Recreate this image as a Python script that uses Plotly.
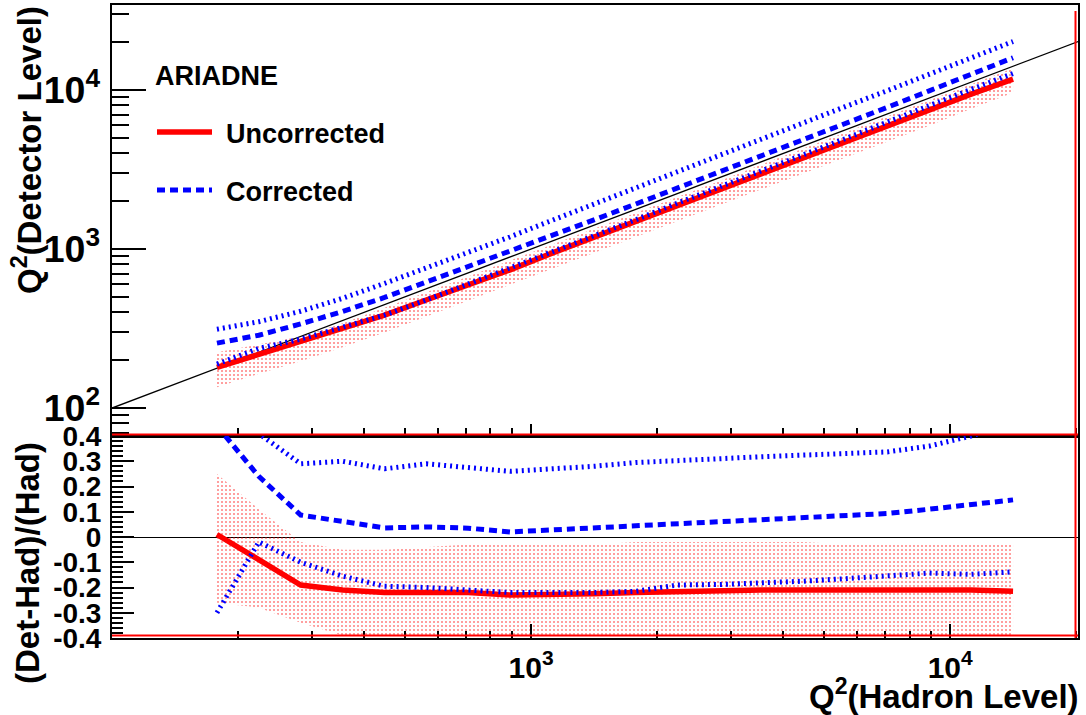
import plotly.graph_objects as go

# ---------------- data ----------------
# hadron-level Q^2 bin centres
q2_had = [178, 224, 282, 355, 447, 562, 708, 891, 1122, 1413, 1778, 2239,
          2818, 3548, 4467, 5623, 7079, 8913, 11220, 14125]

# top panel: detector-level Q^2
det_uncorr = [180, 217, 259, 312, 384, 478, 595, 740, 942, 1187, 1511, 1903,
              2395, 3016, 3797, 4780, 5946, 7487, 9425, 11724]
det_corr = [256, 287, 338, 405, 496, 618, 772, 962, 1212, 1526, 1920, 2418,
            3043, 3867, 4869, 6185, 7787, 9893, 12566, 15961]
det_corr_hi = [313, 349, 406, 490, 608, 759, 949, 1194, 1515, 1922, 2436, 3090,
               3917, 4932, 6209, 7872, 9911, 12567, 15932, 20199]
det_corr_lo = [189, 237, 271, 320, 384, 478, 602, 766, 965, 1215, 1529, 1948,
               2452, 3122, 3931, 4948, 6300, 8022, 10098, 12713]
det_band_hi = [224, 251, 282, 341, 425, 534, 673, 846, 1066, 1342, 1689, 2127,
               2677, 3406, 4288, 5398, 6796, 8646, 10883, 13701]
det_band_lo = [135, 164, 197, 241, 299, 377, 474, 597, 752, 947, 1191, 1500,
               1888, 2377, 2993, 3767, 4743, 5972, 7630, 9605]

# diagonal reference (Det = Had)
diag_q2 = [100, 20200]

# bottom panel: (Det-Had)/Had
rel_uncorr = [0.01, -0.09, -0.19, -0.21, -0.22, -0.22, -0.22, -0.23, -0.23, -0.225,
              -0.22, -0.215, -0.21, -0.21, -0.21, -0.21, -0.21, -0.205, -0.21, -0.215]
rel_corr = [0.44, 0.24, 0.087, 0.06, 0.036, 0.04, 0.035, 0.02, 0.028, 0.036,
            0.045, 0.055, 0.063, 0.068, 0.075, 0.083, 0.093, 0.11, 0.128, 0.147]
rel_corr_hi = [0.76, 0.41, 0.29, 0.30, 0.27, 0.29, 0.275, 0.26, 0.27, 0.28,
               0.295, 0.305, 0.31, 0.318, 0.325, 0.332, 0.337, 0.36, 0.40, 0.45]
rel_corr_lo = [-0.30, -0.02, -0.10, -0.155, -0.195, -0.20, -0.21, -0.22, -0.22, -0.22,
               -0.215, -0.19, -0.188, -0.183, -0.175, -0.165, -0.153, -0.143, -0.148, -0.138]
rel_band_hi = [0.25, 0.11, -0.02, -0.05, -0.05, -0.04, -0.03, -0.03, -0.03, -0.03,
               -0.02, -0.02, -0.02, -0.02, -0.02, -0.03, -0.03, -0.03, -0.03, -0.03]
rel_band_lo = [-0.26, -0.28, -0.34, -0.39, -0.39, -0.39, -0.39, -0.39, -0.39, -0.39,
               -0.39, -0.39, -0.39, -0.39, -0.39, -0.39, -0.39, -0.39, -0.39, -0.39]

x_tick_vals = [1000, 10000]
x_tick_text = ["10<sup>3</sup>", "10<sup>4</sup>"]
rel_tick_vals = [0.4, 0.3, 0.2, 0.1, 0, -0.1, -0.2, -0.3, -0.4]
rel_tick_text = ["0.4", "0.3", "0.2", "0.1", "0", "-0.1", "-0.2", "-0.3", "-0.4"]

legend_title = "ARIADNE"
series_names = ["Uncorrected", "Corrected"]

# ---------------- layout geometry ----------------
W, H = 1086, 715
ML, MR, MT, MB = 112, 8, 5, 77
PW = W - ML - MR
PH = H - MT - MB
SPLIT_PX = 436
dom_split = (H - MB - SPLIT_PX) / PH


def px2x(px):
    return (px - ML) / PW


def py2y(py):
    return (H - MB - py) / PH


FONT = "Liberation Sans, Arial, sans-serif"
RED = "#ff0000"
BLUE = "#0000ff"
DASH = "8px,5px"
DOT = "2px,4px"

fig = go.Figure()

pattern = dict(shape=".", fgcolor=RED, bgcolor="rgba(0,0,0,0)", size=4, solidity=0.2)

# ---- top panel ----
fig.add_trace(go.Scatter(
    x=q2_had + q2_had[::-1], y=det_band_hi + det_band_lo[::-1],
    fill="toself", mode="lines", line=dict(width=0, color="rgba(0,0,0,0)"),
    fillcolor="rgba(0,0,0,0)", fillpattern=pattern,
    xaxis="x", yaxis="y", hoverinfo="skip", showlegend=False))
fig.add_trace(go.Scatter(x=diag_q2, y=diag_q2, mode="lines",
                         line=dict(color="black", width=1.3),
                         xaxis="x", yaxis="y", hoverinfo="skip", showlegend=False))
fig.add_trace(go.Scatter(x=q2_had, y=det_uncorr, mode="lines",
                         line=dict(color=RED, width=5.5),
                         xaxis="x", yaxis="y", showlegend=False))
fig.add_trace(go.Scatter(x=q2_had, y=det_corr, mode="lines",
                         line=dict(color=BLUE, width=5, dash=DASH),
                         xaxis="x", yaxis="y", showlegend=False))
for arr in (det_corr_hi, det_corr_lo):
    fig.add_trace(go.Scatter(x=q2_had, y=arr, mode="lines",
                             line=dict(color=BLUE, width=5, dash=DOT),
                             xaxis="x", yaxis="y", showlegend=False))

# ---- bottom panel ----
fig.add_trace(go.Scatter(
    x=q2_had + q2_had[::-1], y=rel_band_hi + rel_band_lo[::-1],
    fill="toself", mode="lines", line=dict(width=0, color="rgba(0,0,0,0)"),
    fillcolor="rgba(0,0,0,0)", fillpattern=pattern,
    xaxis="x2", yaxis="y2", hoverinfo="skip", showlegend=False))
fig.add_trace(go.Scatter(x=q2_had, y=rel_uncorr, mode="lines",
                         line=dict(color=RED, width=5.5),
                         xaxis="x2", yaxis="y2", showlegend=False))
fig.add_trace(go.Scatter(x=q2_had, y=rel_corr, mode="lines",
                         line=dict(color=BLUE, width=5, dash=DASH),
                         xaxis="x2", yaxis="y2", showlegend=False))
for arr in (rel_corr_hi, rel_corr_lo):
    fig.add_trace(go.Scatter(x=q2_had, y=arr, mode="lines",
                             line=dict(color=BLUE, width=5, dash=DOT),
                             xaxis="x2", yaxis="y2", showlegend=False))

tickfont = dict(family=FONT, size=30, color="black", weight="bold")
relfont = dict(family=FONT, size=28, color="black", weight="bold")
xr = [2.0, 4.305]

common_axis = dict(showline=True, linecolor="black", linewidth=2, mirror=True,
                   showgrid=False, zeroline=False, ticks="inside", tickcolor="black",
                   automargin=False)

fig.update_layout(
    width=W, height=H,
    margin=dict(l=ML, r=MR, t=MT, b=MB, autoexpand=False),
    paper_bgcolor="white", plot_bgcolor="white",
    showlegend=False,
    xaxis=dict(type="log", range=xr, domain=[0, 1], anchor="y", dtick=1,
               showticklabels=False, ticklen=12, tickwidth=2,
               minor=dict(ticks="inside", ticklen=8, tickwidth=1.5, dtick="D1",
                          tickcolor="black", showgrid=False),
               **common_axis),
    yaxis=dict(type="log", range=[1.824, 4.535], domain=[dom_split, 1], anchor="x",
               dtick=1, exponentformat="power", tickfont=tickfont,
               ticklen=34, tickwidth=2, ticklabelstandoff=4,
               minor=dict(ticks="inside", ticklen=17, tickwidth=2, dtick="D1",
                          tickcolor="black", showgrid=False),
               **common_axis),
    xaxis2=dict(type="log", range=xr, domain=[0, 1], anchor="y2",
                tickmode="array", tickvals=x_tick_vals, ticktext=x_tick_text,
                tickfont=tickfont,
                ticklen=14, tickwidth=2, ticklabelstandoff=2,
                minor=dict(ticks="inside", ticklen=7, tickwidth=1.5, dtick="D1",
                           tickcolor="black", showgrid=False),
                **common_axis),
    yaxis2=dict(range=[-0.4, 0.4], domain=[0, dom_split], anchor="x2",
                tickmode="array", tickvals=rel_tick_vals, ticktext=rel_tick_text,
                tickfont=relfont,
                ticklen=22, tickwidth=2, ticklabelstandoff=3,
                minor=dict(ticks="inside", ticklen=11, tickwidth=1.5, dtick=0.02,
                           tick0=0, tickcolor="black", showgrid=False),
                showline=True, linecolor="black", linewidth=2, mirror=True,
                showgrid=False, ticks="inside", tickcolor="black", automargin=False,
                zeroline=True, zerolinecolor="black", zerolinewidth=1.3),
)

# red frame artefacts (ROOT pads)
shapes = [
    dict(type="line", xref="paper", yref="paper", x0=0, x1=1,
         y0=dom_split + 1.5 / PH, y1=dom_split + 1.5 / PH,
         line=dict(color=RED, width=2)),
    dict(type="line", xref="paper", yref="paper", x0=0, x1=1,
         y0=2.5 / PH, y1=2.5 / PH, line=dict(color=RED, width=2)),
    dict(type="line", xref="paper", yref="paper", x0=1 - 2.5 / PW, x1=1 - 2.5 / PW,
         y0=0, y1=1 - 6 / PH, line=dict(color=RED, width=2)),
    # legend samples
    dict(type="line", xref="paper", yref="paper", x0=px2x(157), x1=px2x(212),
         y0=py2y(132), y1=py2y(132), line=dict(color=RED, width=5.5)),
    dict(type="line", xref="paper", yref="paper", x0=px2x(157), x1=px2x(212),
         y0=py2y(190), y1=py2y(190), line=dict(color=BLUE, width=5, dash=DASH)),
]

legfont = dict(family=FONT, size=27, color="black")
titlefont = dict(family=FONT, size=33, color="black")
annotations = [
    dict(text=f"<b>{legend_title}</b>", x=px2x(153), y=py2y(76), xref="paper", yref="paper",
         xanchor="left", yanchor="middle", showarrow=False, font=legfont),
    dict(text=f"<b>{series_names[0]}</b>", x=px2x(224), y=py2y(134), xref="paper", yref="paper",
         xanchor="left", yanchor="middle", showarrow=False, font=legfont),
    dict(text=f"<b>{series_names[1]}</b>", x=px2x(224), y=py2y(192), xref="paper", yref="paper",
         xanchor="left", yanchor="middle", showarrow=False, font=legfont),
    dict(text="<b>Q<sup>2</sup>(Detector Level)</b>", x=px2x(27), y=py2y(4),
         xref="paper", yref="paper", xanchor="center", yanchor="top",
         textangle=-90, showarrow=False, font=titlefont),
    dict(text="<b>(Det-Had)/(Had)</b>", x=px2x(27), y=py2y(440),
         xref="paper", yref="paper", xanchor="center", yanchor="top",
         textangle=-90, showarrow=False, font=titlefont),
    dict(text="<b>Q<sup>2</sup>(Hadron Level)</b>", x=px2x(1081), y=py2y(694),
         xref="paper", yref="paper", xanchor="right", yanchor="middle",
         showarrow=False, font=titlefont),
]

fig.update_layout(shapes=shapes, annotations=annotations)
fig.write_html("out.html", config={"displayModeBar": False},
               post_script="document.body.style.margin='0';document.body.style.padding='0';")
